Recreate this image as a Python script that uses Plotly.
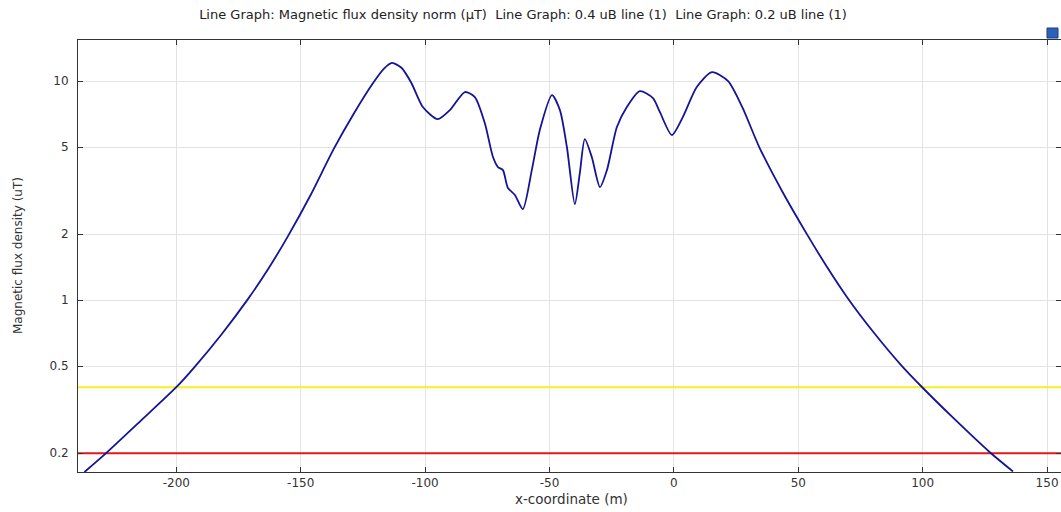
import plotly.graph_objects as go

# Data
x_m = [-236.9, -228.2, -214.0, -200.0, -192.5, -182.0, -171.2, -163.0, -155.1, -146.0,
       -136.7, -128.5, -120.9, -116.5, -113.3, -109.5, -105.5, -100.9, -94.9, -90.0,
       -84.0, -80.0, -76.0, -72.7, -70.7, -68.7, -66.7, -63.9, -60.7, -57.1,
       -53.9, -49.0, -45.8, -43.0, -39.8, -37.8, -35.8, -33.0, -29.7, -26.9,
       -22.9, -18.9, -13.7, -8.4, -5.6, -0.8, 3.6, 9.2, 15.3, 21.8,
       27.5, 34.3, 43.8, 53.7, 61.5, 69.9, 80.5, 91.5, 99.7, 112.0,
       127.0, 136.3]
b_uT = [0.164, 0.200, 0.283, 0.400, 0.497, 0.693, 1.01, 1.39, 1.96, 3.02,
        4.90, 7.15, 9.8, 11.4, 12.1, 11.5, 9.8, 7.61, 6.70, 7.37,
        8.91, 8.45, 6.43, 4.50, 4.05, 3.92, 3.25, 3.02, 2.60, 3.92,
        5.97, 8.63, 7.37, 5.0, 2.74, 3.80, 5.43, 4.50, 3.28, 3.92,
        6.17, 7.61, 9.0, 8.37, 7.21, 5.67, 6.85, 9.39, 10.99, 10.0,
        7.6, 5.00, 3.10, 1.98, 1.42, 1.02, 0.707, 0.502, 0.401, 0.292,
        0.202, 0.165]

limit_04 = 0.4
limit_02 = 0.2
x_range = [-239.5, 155.6]

x_ticks = [-200, -150, -100, -50, 0, 50, 100, 150]
x_ticktext = ["-200", "-150", "-100", "-50", "0", "50", "100", "150"]
y_ticks = [0.2, 0.5, 1, 2, 5, 10]
y_ticktext = ["0.2", "0.5", "1", "2", "5", "10"]

title_text = ("Line Graph: Magnetic flux density norm (µT)\u00a0\u00a0Line Graph: 0.4 uB line (1)"
              "\u00a0\u00a0Line Graph: 0.2 uB line (1)")

FONT = "DejaVu Sans"

fig = go.Figure()
fig.add_trace(go.Scatter(x=x_range, y=[limit_04, limit_04], mode="lines",
                         line=dict(color="#f2f21e", width=2), showlegend=False))
fig.add_trace(go.Scatter(x=x_range, y=[limit_02, limit_02], mode="lines",
                         line=dict(color="#e01818", width=2), showlegend=False))
fig.add_trace(go.Scatter(x=x_m, y=b_uT, mode="lines",
                         line=dict(color="#141496", width=1.8, shape="spline", smoothing=0.7),
                         showlegend=False))

axis_common = dict(showline=True, linecolor="#333333", linewidth=1, mirror="ticks",
                   ticks="inside", ticklen=5, tickcolor="#333333",
                   showgrid=True, gridcolor="#e3e3e3", gridwidth=1, zeroline=False,
                   tickfont=dict(family=FONT, size=12, color="#333333"))

fig.update_xaxes(range=x_range, tickvals=x_ticks, ticktext=x_ticktext, **axis_common)
fig.update_yaxes(type="log", range=[-0.785, 1.1876], tickvals=y_ticks, ticktext=y_ticktext,
                 ticklabelstandoff=6, **axis_common)

fig.update_layout(
    width=1061, height=512,
    margin=dict(l=78, r=0, t=40, b=40),
    paper_bgcolor="white", plot_bgcolor="white",
    font=dict(family=FONT, size=12, color="#333333"),
    title=dict(text=title_text, font=dict(family=FONT, size=13, color="#222222"),
               xref="container", x=523 / 1061, xanchor="center",
               yref="container", y=1 - 14 / 512, yanchor="middle"),
    annotations=[
        dict(text="Magnetic flux density (uT)", xref="paper", yref="paper",
             x=(18 - 78) / 983, y=0.5, textangle=-90, showarrow=False,
             xanchor="center", yanchor="middle",
             font=dict(family=FONT, size=12, color="#333333")),
        dict(text="x-coordinate (m)", xref="paper", yref="paper",
             x=(571 - 78) / 983, y=-(499 - 472) / 432, showarrow=False,
             xanchor="center", yanchor="middle",
             font=dict(family=FONT, size=13.5, color="#333333")),
    ],
    shapes=[
        dict(type="rect", xref="paper", yref="paper",
             x0=(1047 - 78) / 983, x1=(1058 - 78) / 983,
             y0=(472 - 38) / 432, y1=(472 - 28) / 432,
             fillcolor="#2a62b8", line=dict(color="#1b3f80", width=1)),
    ],
)

# remove the page's default body margin so the 1061x512 figure fills the window exactly
fig.write_html("out.html", config={"displayModeBar": False},
               post_script="document.body.style.margin='0';document.body.style.overflow='hidden';")
